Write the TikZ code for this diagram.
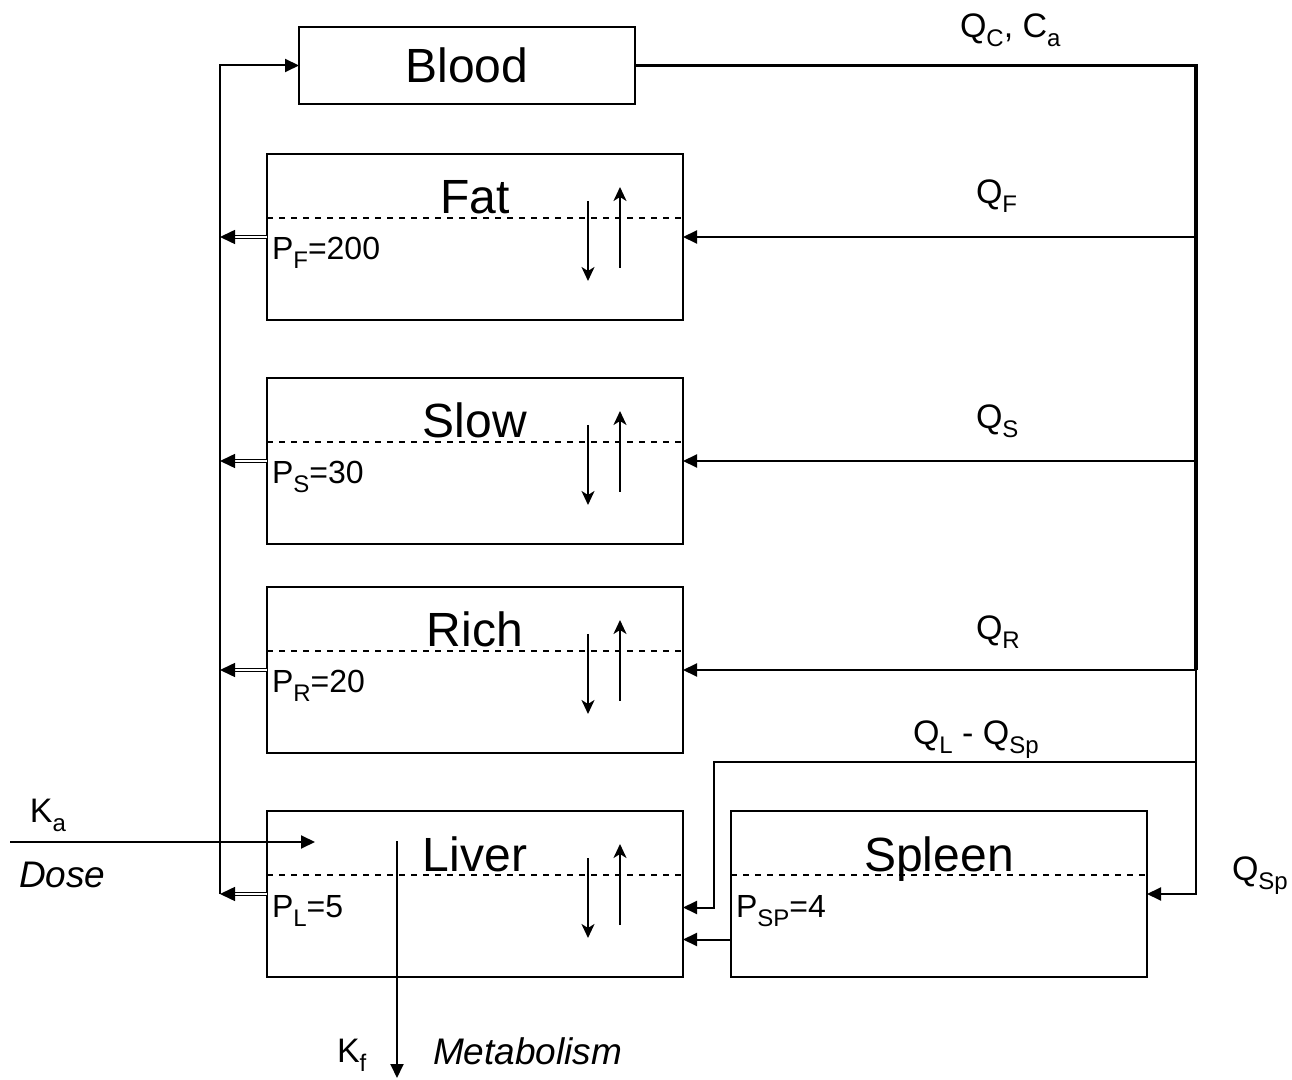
\documentclass[tikz,border=0pt]{standalone}
\usepackage{fontspec}
\setmainfont{Liberation Sans}
\usetikzlibrary{arrows.meta,positioning}
\newcommand\lowsub[1]{\raisebox{-4.5pt}{\fontsize{12pt}{13pt}\selectfont #1}}

\begin{document}
\begin{tikzpicture}[x=0.5pt, y=-0.5pt, line width=1pt,
  organ/.style={draw, inner sep=0pt, outer sep=0pt,
                minimum width=208pt, minimum height=83pt},
  bloodbox/.style={draw, inner sep=0pt, outer sep=0pt,
                   minimum width=168pt, minimum height=38.5pt,
                   font=\fontsize{24pt}{28pt}\selectfont},
  bigtext/.style={inner sep=0pt, font=\fontsize{24pt}{28pt}\selectfont},
  smalltext/.style={inner sep=0pt, font=\fontsize{16pt}{20pt}\selectfont},
  qtext/.style={inner sep=0pt, font=\fontsize{17pt}{20pt}\selectfont},
  itext/.style={inner sep=0pt, font=\fontsize{18.5pt}{22pt}\selectfont\itshape},
  flow/.style={-{Triangle[length=7pt, width=6.5pt]}},
  back/.style={double, double distance=0.8pt, line width=0.75pt,
               -{Triangle[length=7.5pt, width=7pt]}},
  exch/.style={-{Stealth[length=7pt, width=6.5pt, inset=2pt]}},
  mainline/.style={line width=1.8pt}
]
\useasboundingbox (0,0) rectangle (1292,1080);

% compartments
\node[bloodbox] (blood) at (467,65.5) {Blood};
\node[organ] (fat) at (475,237) {};
\node[organ, below=29pt of fat] (slow) {};
\node[organ, below=21.5pt of slow] (rich) {};
\node[organ, below=29pt of rich] (liver) {};
\node[organ, right=24pt of liver] (spleen) {};

% tissue details
\foreach \n/\t/\s/\v in {fat/Fat/F/200, slow/Slow/S/30, rich/Rich/R/20, liver/Liver/L/5} {
  \draw[dashed] ([yshift=-32pt]\n.north west) -- ([yshift=-32pt]\n.north east);
  \node[bigtext, anchor=base] at ([yshift=-30pt]\n.north) {\t};
  \node[smalltext, anchor=base west] at ([xshift=2pt, yshift=-53pt]\n.north west)
    {P\lowsub{\s}=\v};
  \draw[exch] ([xshift=160.5pt, yshift=18pt]\n.west) -- ([xshift=160.5pt, yshift=-22pt]\n.west);
  \draw[exch] ([xshift=176.5pt, yshift=-15.5pt]\n.west) -- ([xshift=176.5pt, yshift=25pt]\n.west);
}
\draw[dashed] ([yshift=-32pt]spleen.north west) -- ([yshift=-32pt]spleen.north east);
\node[bigtext, anchor=base] at ([yshift=-30pt]spleen.north) {Spleen};
\node[smalltext, anchor=base west] at ([xshift=2pt, yshift=-53pt]spleen.north west)
  {P\lowsub{SP}=4};

% arterial side
\coordinate (rx) at (1196,0);
\coordinate (bx) at (714,0);
\coordinate (lx) at (220,0);
\coordinate (ql) at (1196,762);
\draw[mainline] (blood.east) -- (blood.east -| rx) -- (rich.east -| rx);
\draw[flow] (rich.east -| rx) |- (spleen.east);
\foreach \n in {fat, slow, rich}
  \draw[flow] (\n.east -| rx) -- (\n.east);
\draw[flow] (ql) -| ([yshift=-6.75pt]liver.east -| bx) -- ([yshift=-6.75pt]liver.east);
\draw[flow] ([yshift=-22.75pt]spleen.west) -- ([yshift=-22.75pt]liver.east);

% venous return
\draw[flow] (liver.west -| lx) |- (blood.west);
\foreach \n in {fat, slow, rich, liver}
  \draw[back] (\n.west) -- (\n.west -| lx);

% dose and metabolism
\coordinate (dose) at (10,842);
\coordinate (dosein) at (315,842);
\draw[flow] (dose) -- (dosein);
\coordinate (mtop) at (397,841);
\coordinate (mbot) at (397,1078);
\draw[flow] (mtop) -- (mbot);

% flow labels
\node[qtext, anchor=base west] at (959,38) {Q\lowsub{C}, C\lowsub{a}};
\node[qtext, anchor=base west] at (975,204) {Q\lowsub{F}};
\node[qtext, anchor=base west] at (975,429) {Q\lowsub{S}};
\node[qtext, anchor=base west] at (975,640) {Q\lowsub{R}};
\node[qtext, anchor=base west] at (912,745) {Q\lowsub{L} - Q\lowsub{Sp}};
\node[qtext, anchor=base west] at (1231,880) {Q\lowsub{Sp}};
\node[qtext, anchor=base west] at (29,822) {K\lowsub{a}};
\node[itext, anchor=base west] at (18,887) {Dose};
\node[qtext, anchor=base west] at (336,1062) {K\lowsub{f}};
\node[itext, anchor=base west] at (432,1064) {Metabolism};
\end{tikzpicture}
\end{document}
